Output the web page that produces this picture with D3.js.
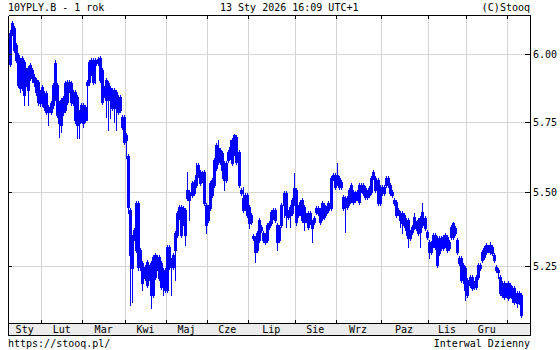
<!DOCTYPE html>
<html><head><meta charset="utf-8">
<script src="https://cdn.jsdelivr.net/npm/d3@7"></script>
<style>
body{margin:0;background:#fff}
text{font-family:"DejaVu Sans Mono",monospace;font-size:10px;fill:#000}
</style>
</head><body>
<svg id="c" width="560" height="350"></svg>
<script>
// Daily OHLC of 10YPLY.B (Poland 10Y yield), 13 Jan 2025 .. 13 Jan 2026
const opens = [
5.962,6.080,6.099,6.034,5.996,5.978,5.877,5.970,5.895,5.948,
5.959,5.940,5.895,5.903,5.895,5.818,5.877,5.803,5.855,5.785,
5.818,5.810,5.840,5.884,5.818,5.829,5.785,5.792,5.821,5.866,
5.892,5.818,5.858,5.840,5.745,5.756,5.810,5.756,5.884,5.895,
5.978,5.978,5.978,5.966,5.985,5.940,5.847,5.829,5.829,5.873,
5.866,5.818,5.858,5.840,5.792,5.767,5.767,5.683,5.626,5.438,
5.242,5.343,5.462,5.462,5.302,5.259,5.210,5.262,5.246,5.154,
5.154,5.213,5.279,5.279,5.259,5.236,5.170,5.170,5.312,5.269,
5.246,5.302,5.353,5.448,5.353,5.445,5.353,5.479,5.500,5.490,
5.535,5.524,5.559,5.570,5.542,5.570,5.455,5.404,5.531,5.490,
5.524,5.584,5.605,5.648,5.637,5.602,5.542,5.612,5.623,5.683,
5.637,5.694,5.641,5.507,5.438,5.490,5.490,5.448,5.421,5.343,
5.296,5.360,5.336,5.380,5.360,5.329,5.336,5.380,5.394,5.414,
5.438,5.387,5.380,5.387,5.455,5.496,5.431,5.421,5.428,5.462,
5.507,5.421,5.465,5.472,5.448,5.404,5.428,5.397,5.377,5.397,
5.431,5.445,5.438,5.411,5.414,5.445,5.438,5.445,5.549,5.559,
5.559,5.517,5.535,5.483,5.479,5.448,5.462,5.472,5.500,5.496,
5.479,5.465,5.507,5.524,5.514,5.483,5.490,5.500,5.570,5.507,
5.542,5.517,5.496,5.496,5.524,5.549,5.496,5.500,5.472,5.465,
5.438,5.404,5.394,5.421,5.404,5.343,5.343,5.363,5.380,5.377,
5.404,5.363,5.387,5.411,5.363,5.296,5.326,5.319,5.312,5.343,
5.343,5.309,5.346,5.319,5.302,5.309,5.346,5.346,5.377,5.336,
5.276,5.276,5.252,5.242,5.154,5.187,5.177,5.193,5.180,5.213,
5.242,5.269,5.279,5.296,5.302,5.319,5.312,5.286,5.246,5.236,
5.213,5.154,5.147,5.187,5.144,5.187,5.144,5.177,5.128,5.160,
5.154];
const highs = [
6.092,6.126,6.107,6.042,6.004,5.985,5.993,5.978,5.948,5.955,
5.966,5.948,5.925,5.910,5.903,5.866,5.884,5.862,5.862,5.810,
5.825,5.892,5.978,5.892,5.825,5.836,5.843,5.899,5.903,5.903,
5.899,5.866,5.866,5.847,5.792,5.818,5.818,5.810,5.903,5.978,
5.985,5.985,5.985,5.989,5.993,5.948,5.880,5.910,5.899,5.880,
5.873,5.873,5.866,5.847,5.847,5.774,5.774,5.708,5.634,5.445,
5.353,5.377,5.469,5.469,5.309,5.266,5.252,5.269,5.252,5.266,
5.286,5.292,5.286,5.286,5.266,5.242,5.242,5.319,5.319,5.276,
5.292,5.366,5.435,5.455,5.455,5.452,5.445,5.570,5.507,5.538,
5.542,5.602,5.602,5.577,5.573,5.577,5.462,5.455,5.538,5.549,
5.619,5.673,5.683,5.655,5.644,5.609,5.609,5.648,5.683,5.690,
5.705,5.701,5.648,5.514,5.517,5.496,5.496,5.455,5.428,5.356,
5.350,5.366,5.411,5.387,5.366,5.360,5.394,5.400,5.438,5.445,
5.445,5.394,5.387,5.462,5.503,5.503,5.438,5.455,5.479,5.567,
5.514,5.455,5.472,5.479,5.455,5.428,5.435,5.435,5.404,5.417,
5.452,5.452,5.445,5.469,5.462,5.452,5.469,5.556,5.567,5.567,
5.602,5.556,5.542,5.490,5.486,5.486,5.514,5.531,5.507,5.503,
5.507,5.531,5.531,5.531,5.521,5.507,5.521,5.556,5.577,5.556,
5.549,5.524,5.524,5.524,5.556,5.556,5.531,5.507,5.479,5.472,
5.445,5.435,5.435,5.428,5.411,5.411,5.370,5.387,5.428,5.400,
5.411,5.417,5.462,5.417,5.370,5.336,5.333,5.360,5.360,5.350,
5.350,5.350,5.353,5.360,5.353,5.336,5.387,5.397,5.383,5.343,
5.282,5.282,5.259,5.249,5.210,5.219,5.219,5.200,5.219,5.259,
5.259,5.302,5.316,5.326,5.319,5.329,5.319,5.292,5.252,5.242,
5.219,5.200,5.200,5.193,5.200,5.193,5.183,5.183,5.167,5.167,
5.160];
const lows = [
5.955,6.073,6.008,5.970,5.877,5.858,5.866,5.810,5.880,5.810,
5.903,5.895,5.880,5.847,5.810,5.807,5.807,5.792,5.778,5.737,
5.778,5.799,5.829,5.767,5.694,5.712,5.774,5.785,5.814,5.858,
5.810,5.810,5.745,5.690,5.690,5.748,5.730,5.748,5.756,5.884,
5.921,5.888,5.892,5.959,5.895,5.814,5.840,5.767,5.719,5.763,
5.792,5.748,5.719,5.778,5.785,5.723,5.669,5.619,5.428,5.122,
5.131,5.336,5.296,5.236,5.236,5.170,5.203,5.180,5.203,5.112,
5.147,5.206,5.236,5.203,5.173,5.154,5.164,5.164,5.239,5.154,
5.239,5.203,5.346,5.407,5.346,5.387,5.319,5.472,5.404,5.483,
5.490,5.517,5.552,5.524,5.535,5.455,5.360,5.397,5.438,5.483,
5.517,5.577,5.598,5.598,5.549,5.507,5.535,5.605,5.616,5.594,
5.630,5.598,5.517,5.490,5.431,5.438,5.414,5.377,5.390,5.336,
5.262,5.296,5.329,5.363,5.329,5.323,5.329,5.373,5.387,5.407,
5.397,5.302,5.329,5.380,5.414,5.380,5.407,5.380,5.421,5.455,
5.387,5.414,5.421,5.397,5.370,5.397,5.373,5.390,5.329,5.390,
5.424,5.421,5.390,5.404,5.407,5.421,5.431,5.438,5.542,5.510,
5.524,5.510,5.510,5.438,5.363,5.441,5.455,5.465,5.458,5.465,
5.472,5.458,5.500,5.490,5.476,5.476,5.483,5.493,5.545,5.500,
5.455,5.455,5.490,5.490,5.517,5.517,5.490,5.483,5.455,5.414,
5.421,5.380,5.360,5.380,5.353,5.312,5.336,5.356,5.373,5.370,
5.353,5.312,5.380,5.370,5.339,5.276,5.289,5.312,5.306,5.246,
5.286,5.302,5.302,5.312,5.296,5.302,5.339,5.339,5.353,5.289,
5.252,5.196,5.193,5.138,5.147,5.180,5.170,5.173,5.173,5.206,
5.236,5.262,5.272,5.289,5.296,5.289,5.286,5.262,5.229,5.210,
5.154,5.147,5.141,5.147,5.138,5.147,5.131,5.125,5.115,5.125,
5.083];
const closes = [
6.080,6.119,6.015,5.978,5.884,5.873,5.985,5.847,5.940,5.866,
5.914,5.910,5.914,5.858,5.821,5.858,5.818,5.855,5.785,5.803,
5.785,5.884,5.966,5.774,5.745,5.737,5.836,5.892,5.895,5.895,
5.821,5.858,5.756,5.737,5.785,5.810,5.745,5.803,5.895,5.970,
5.932,5.895,5.959,5.981,5.903,5.821,5.873,5.903,5.892,5.829,
5.799,5.866,5.799,5.785,5.840,5.730,5.676,5.701,5.448,5.286,
5.346,5.370,5.302,5.246,5.246,5.193,5.246,5.187,5.213,5.259,
5.279,5.286,5.242,5.210,5.180,5.187,5.236,5.312,5.246,5.246,
5.286,5.360,5.428,5.414,5.448,5.394,5.438,5.507,5.472,5.531,
5.496,5.559,5.594,5.531,5.567,5.462,5.387,5.448,5.445,5.542,
5.612,5.665,5.655,5.605,5.577,5.542,5.602,5.641,5.658,5.602,
5.701,5.605,5.524,5.496,5.479,5.448,5.421,5.394,5.397,5.350,
5.343,5.302,5.404,5.370,5.336,5.353,5.387,5.394,5.431,5.438,
5.404,5.329,5.336,5.455,5.496,5.421,5.414,5.448,5.472,5.514,
5.397,5.448,5.428,5.404,5.397,5.421,5.380,5.428,5.397,5.411,
5.445,5.428,5.397,5.462,5.455,5.428,5.462,5.549,5.559,5.517,
5.531,5.549,5.517,5.445,5.455,5.479,5.507,5.524,5.465,5.472,
5.500,5.524,5.524,5.496,5.483,5.500,5.514,5.549,5.552,5.549,
5.462,5.462,5.517,5.517,5.549,5.524,5.524,5.490,5.462,5.421,
5.428,5.428,5.428,5.387,5.370,5.404,5.363,5.380,5.414,5.394,
5.360,5.411,5.431,5.377,5.346,5.329,5.296,5.353,5.353,5.252,
5.292,5.343,5.309,5.353,5.346,5.329,5.380,5.394,5.360,5.296,
5.259,5.203,5.210,5.170,5.203,5.213,5.213,5.180,5.213,5.252,
5.252,5.296,5.309,5.319,5.312,5.296,5.292,5.269,5.236,5.229,
5.160,5.193,5.193,5.154,5.193,5.154,5.177,5.131,5.160,5.131,
5.089];
const monthLabels = ["Sty","Lut","Mar","Kwi","Maj","Cze","Lip","Sie","Wrz","Paz","Lis","Gru"];
const monthStarts = [0,16,36,57,77,97,117,140,160,182,205,224,244]; // bar index of first session of each month
const yTicks = [5.25,5.50,5.75,6.00];
const titleLeft = "10YPLY.B - 1 rok";
const titleMid = "13 Sty 2026 16:09 UTC+1";
const titleRight = "(C)Stooq";
const footLeft = "https://stooq.pl/";
const footRight = "Interwal Dzienny";

const L=8, R=530, T=15, B=323, B2=335;
const BLUE="#0000ff";
const svg=d3.select("#c");
const x=d3.scaleLinear().domain([0,255.1]).range([8.6,R]);
const y=d3.scaleLog().domain([5.064,6.150]).range([B,T]);
const px=v=>Math.round(v)+0.5;

// grid
const g=svg.append("g").attr("shape-rendering","crispEdges");
g.selectAll(".hg").data(yTicks).join("line")
 .attr("x1",L).attr("x2",R).attr("y1",d=>px(y(d))).attr("y2",d=>px(y(d)))
 .attr("stroke","#d4d4d4");
g.selectAll(".vg").data(monthStarts.slice(1)).join("line")
 .attr("x1",d=>px(x(d))).attr("x2",d=>px(x(d))).attr("y1",T).attr("y2",B)
 .attr("stroke","#d4d4d4");

// candles
const bars=d3.range(closes.length).map(i=>({i,o:opens[i],h:highs[i],l:lows[i],c:closes[i]}));
const cg=svg.append("g").attr("shape-rendering","crispEdges");
bars.forEach(d=>{
  const cx=Math.round(x(d.i+0.5));
  cg.append("line").attr("x1",cx+0.5).attr("x2",cx+0.5)
    .attr("y1",Math.round(y(d.h))).attr("y2",Math.round(y(d.l))+1)
    .attr("stroke",BLUE).attr("stroke-width",1);
  const top=Math.round(y(Math.max(d.o,d.c))), bot=Math.round(y(Math.min(d.o,d.c)));
  if(d.c>=d.o){
    cg.append("rect").attr("x",cx-0.5).attr("y",top+0.5).attr("width",2)
      .attr("height",Math.max(bot-top,0)).attr("fill","none").attr("stroke",BLUE);
  } else {
    cg.append("rect").attr("x",cx-1).attr("y",top).attr("width",3)
      .attr("height",Math.max(bot-top+1,1)).attr("fill",BLUE);
  }
});

// axis band and frame
const fg=svg.append("g").attr("shape-rendering","crispEdges");
fg.append("rect").attr("x",L).attr("y",B).attr("width",R-L).attr("height",B2-B).attr("fill","#ececec");
[[L,T,R,T],[L,B,R,B],[L,B2,R,B2],[L,T,L,B2],[R,T,R,B2]].forEach(s=>{
  fg.append("line").attr("x1",px(s[0])).attr("y1",px(s[1])).attr("x2",px(s[2])).attr("y2",px(s[3]))
    .attr("stroke","#000");
});
monthStarts.slice(1).forEach(m=>{
  const xx=px(x(m));
  fg.append("line").attr("x1",xx).attr("x2",xx).attr("y1",T).attr("y2",T+4).attr("stroke","#000");
  fg.append("line").attr("x1",xx).attr("x2",xx).attr("y1",B-3).attr("y2",B).attr("stroke","#000");
});
yTicks.forEach(v=>{
  const yy=px(y(v));
  fg.append("line").attr("x1",L).attr("x2",L+4).attr("y1",yy).attr("y2",yy).attr("stroke","#000");
  fg.append("line").attr("x1",R-5).attr("x2",R).attr("y1",yy).attr("y2",yy).attr("stroke","#000");
  svg.append("text").attr("x",R+3).attr("y",Math.round(y(v))+4).text(v.toFixed(2));
});
monthLabels.forEach((m,k)=>{
  const a=k===0?L:x(monthStarts[k]), b=x(monthStarts[k+1]);
  svg.append("text").attr("x",(a+b)/2).attr("y",B2-2).attr("text-anchor","middle").text(m);
});
svg.append("text").attr("x",L).attr("y",11).text(titleLeft);
svg.append("text").attr("x",220).attr("y",11).text(titleMid);
svg.append("text").attr("x",R).attr("y",11).attr("text-anchor","end").text(titleRight);
svg.append("text").attr("x",L).attr("y",347).text(footLeft);
svg.append("text").attr("x",R).attr("y",347).attr("text-anchor","end").text(footRight);
</script>
</body></html>
